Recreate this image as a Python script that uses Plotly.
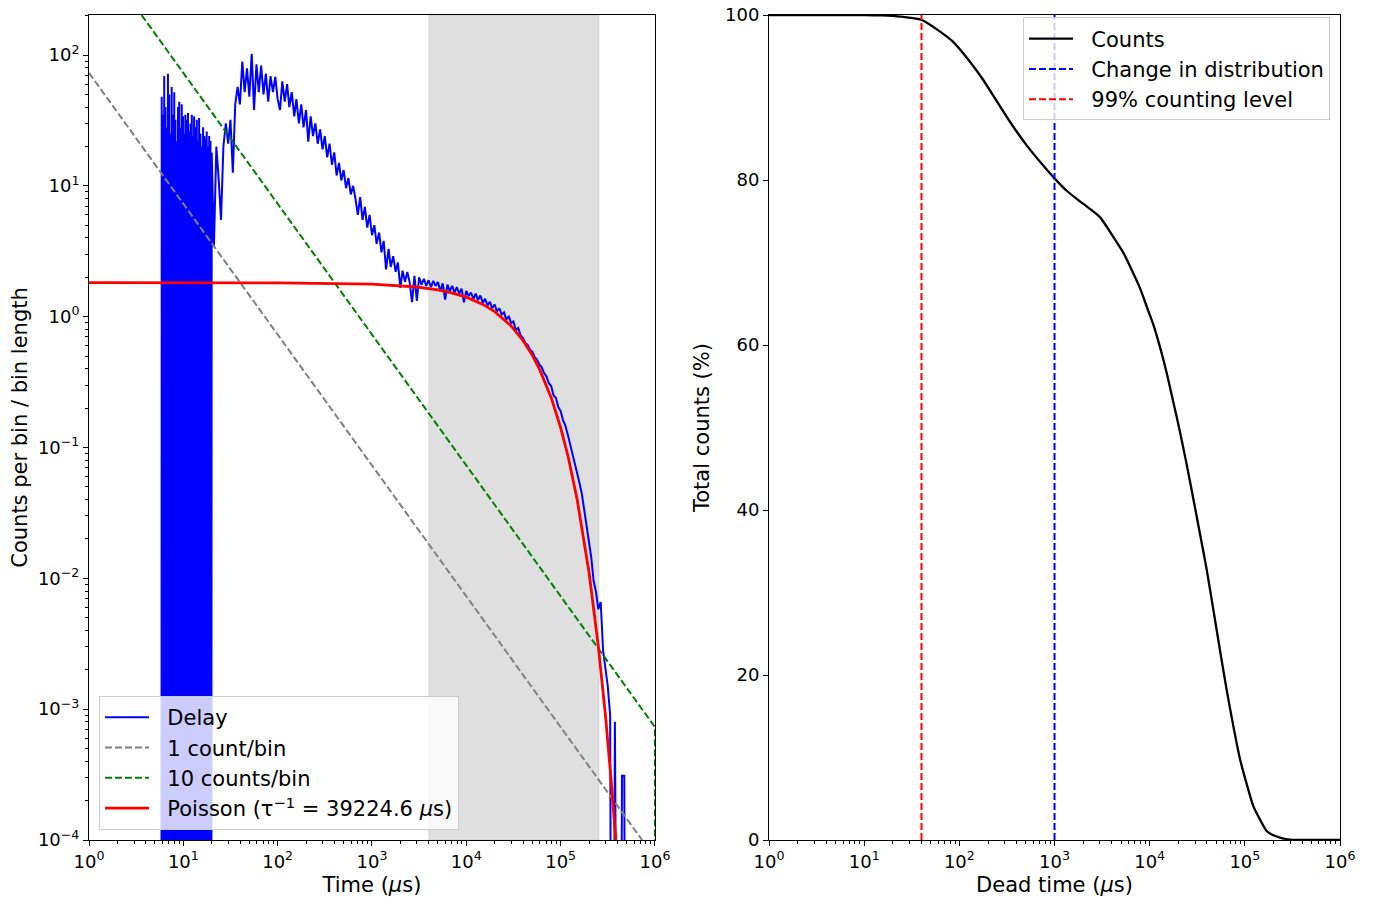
import plotly.graph_objects as go

# ---------------- Left panel data ----------------
# early region: populated bins interleaved with empty (zero-count) bins
spike_time = [5.85, 5.9, 5.99, 6.08, 6.17, 6.27, 6.37, 6.47, 6.57, 6.67, 6.77, 6.87, 6.98, 7.09, 7.2, 7.31,
              7.42, 7.53, 7.65, 7.77, 7.89, 8.01, 8.13, 8.26, 8.38, 8.51, 8.64, 8.78, 8.91, 9.05, 9.19, 9.33,
              9.47, 9.62, 9.77, 9.92, 10.06, 10.2, 10.35, 10.5, 10.7, 10.9, 11.05, 11.2, 11.35, 11.5, 11.7,
              11.9, 12.1, 12.3, 12.45, 12.6, 12.8, 13.0, 13.2, 13.4, 13.65, 13.9, 14.1, 14.3, 14.5, 14.7,
              14.95, 15.2, 15.45, 15.7, 15.95, 16.2, 16.45, 16.7, 16.95, 17.2, 17.45, 17.7, 18.0, 18.3,
              18.55, 18.8, 19.1, 19.4, 19.7, 20.0]
spike_counts = [0, 48, 0, 35, 0, 69, 0, 40, 0, 28, 0, 72, 0, 50, 0, 25,
                0, 57, 0, 35, 0, 52, 0, 32, 0, 22, 0, 40, 0, 44, 0, 28,
                0, 42, 0, 34, 0, 25, 0, 35, 0, 32, 0, 36, 0, 26, 0,
                30, 0, 35, 0, 24, 0, 34, 0, 28, 0, 32, 0, 22, 0, 33,
                0, 25, 0, 20, 0, 28, 0, 24, 0, 23, 0, 26, 0, 20,
                0, 24, 0, 22, 0, 18]

delay_time = [21.1, 22.4, 23.7, 25.1, 26.6, 28.2, 29.9, 31.6, 33.5, 35.5,
              37.6, 39.8, 42.2, 44.7, 47.3, 50.1, 53.1, 56.2, 59.6, 63.1,
              66.8, 70.8, 75.0, 79.4, 84.1, 89.1, 94.4, 100, 106, 112,
              119, 126, 133, 141, 150, 158, 168, 178, 188, 200,
              211, 224, 237, 251, 266, 282, 299, 316, 335, 355,
              376, 398, 422, 447, 473, 501, 531, 562, 596, 631,
              668, 708, 750, 794, 841, 891, 944, 1000, 1060, 1120,
              1190, 1260, 1330, 1410, 1500, 1580, 1680, 1780, 1880, 2000,
              2110, 2240, 2370, 2510, 2660, 2820, 2990, 3160, 3350, 3550,
              3760, 3980, 4220, 4470, 4730, 5010, 5310, 5620, 5960, 6310,
              6680, 7080, 7500, 7940, 8410, 8910, 9440, 10000, 10600, 11200,
              11900, 12600, 13300, 14100, 15000, 15800, 16800, 17800, 18800, 20000,
              21100, 22400, 23700, 25100, 26600, 28200, 29900, 31600, 33500, 35500,
              37600, 39800, 42200, 44700, 47300, 50100, 53100, 56200, 59600, 63100,
              66800, 70800, 75000, 79400, 84100, 89100, 94400, 100000, 106000, 112000,
              119000, 126000, 133000, 141000, 150000, 158000, 168000, 178000, 188000, 200000,
              211000, 224000, 237000, 251000, 266000, 282000, 299000, 316000, 335000, 355000,
              376000, 398000, 422000, 447000, 473000, 501000]
delay_counts = [3.4, 20, 11.2, 5.5, 20, 30, 21, 32, 12.6, 42,
                57, 42, 89, 52, 79, 48, 102, 38, 85, 52,
                83, 50, 72, 44, 69, 52, 68, 46, 38, 63,
                44, 60, 40, 52, 34, 46, 30, 42, 28, 38,
                21.8, 34, 24, 30, 21, 27, 19, 24, 16.5, 21,
                14.5, 18, 12, 15, 11, 13.2, 9.6, 11.5, 8.6, 10,
                8.0, 6.0, 8.2, 5.5, 6.9, 4.8, 6.0, 4.2, 5.0, 3.6,
                4.4, 3.1, 3.8, 2.3, 3.3, 2.4, 2.9, 2.2, 2.6, 1.66,
                2.25, 1.85, 2.2, 1.82, 1.29, 2.05, 1.32, 2.0, 1.75, 1.95,
                1.72, 1.9, 1.68, 1.88, 1.72, 1.84, 1.56, 1.8, 1.35, 1.76,
                1.56, 1.72, 1.53, 1.68, 1.5, 1.64, 1.29, 1.57, 1.44, 1.53,
                1.37, 1.5, 1.34, 1.45, 1.28, 1.37, 1.22, 1.3, 1.16, 1.24,
                1.10, 1.16, 1.04, 1.08, 0.95, 1.01, 0.89, 0.92, 0.79, 0.82,
                0.72, 0.69, 0.63, 0.61, 0.56, 0.54, 0.49, 0.47, 0.43, 0.41,
                0.37, 0.35, 0.31, 0.295, 0.25, 0.24, 0.204, 0.19, 0.162, 0.148,
                0.126, 0.107, 0.091, 0.076, 0.066, 0.054, 0.044, 0.033, 0.026, 0.018,
                0.0145, 0.0095, 0.0079, 0.0058, 0.0066, 0.0028, 0.002, 0.0015, 0.0009, 0,
                0.0008, 0, 0, 0.00031, 0.00031, 0]

ref_time = [1, 1e6, 1e6]
one_count_per_bin = [73, 7.3e-5, 0]
ten_counts_per_bin = [730, 7.3e-4, 0]

poisson_time = [1, 100, 1000, 2000, 3000, 5000, 7000, 10000, 15000, 20000, 30000, 40000,
                50000, 60000, 80000, 100000, 120000, 150000, 180000, 200000, 250000, 300000,
                350000, 400000]
poisson_vals = [1.82, 1.815, 1.774, 1.730, 1.686, 1.602, 1.523, 1.410, 1.242, 1.093, 0.847, 0.656,
                0.509, 0.394, 0.237, 0.142, 0.0854, 0.0397, 0.0185, 0.0111, 0.0031, 0.00087,
                0.000242, 0.0000677]

band_start, band_end = 4000, 255000

# ---------------- Right panel data ----------------
dead_time = [1, 10, 15.4, 24, 40, 59, 85, 122, 174, 249, 357, 510, 730, 1000, 1340, 2010, 3000,
             4150, 5280, 7910, 9290, 10900, 12800, 15100, 17700, 20800, 24500, 28700, 33800,
             39700, 46700, 54800, 64400, 75700, 89000, 104500, 122800, 144000, 169500, 199000,
             234000, 298000, 500000, 1000000]
total_pct = [100, 100, 99.95, 99.8, 99.4, 98.2, 96.8, 94.7, 92.3, 89.5, 86.7, 84.2, 82.0, 80.2, 78.7,
             77.1, 75.5, 73.1, 71.2, 66.9, 64.7, 62.5, 59.8, 56.6, 53.1, 49.5, 45.5, 41.4, 37.1,
             32.8, 27.9, 23.0, 18.2, 13.8, 9.8, 6.8, 4.1, 2.5, 1.1, 0.57, 0.3, 0.04, 0, 0]
change_time = 1000
level99_time = 40

FLOOR = 1e-9


def clip(vals):
    return [v if v > 0 else FLOOR for v in vals]


FONT = "DejaVu Sans"
DASH = "7px,3px"
PAD = "\u00a0\u00a0"

fig = go.Figure()

fig.add_trace(go.Scatter(x=spike_time + delay_time, y=clip(spike_counts + delay_counts), mode="lines",
                         name=PAD + "Delay", line=dict(color="#0000ff", width=2),
                         xaxis="x", yaxis="y", legend="legend", legendgroup="a"))
fig.add_trace(go.Scatter(x=ref_time, y=clip(one_count_per_bin), mode="lines", name=PAD + "1 count/bin",
                         line=dict(color="#808080", width=2, dash=DASH),
                         xaxis="x", yaxis="y", legend="legend", legendgroup="b"))
fig.add_trace(go.Scatter(x=ref_time, y=clip(ten_counts_per_bin), mode="lines", name=PAD + "10 counts/bin",
                         line=dict(color="#008000", width=2, dash=DASH),
                         xaxis="x", yaxis="y", legend="legend", legendgroup="c"))
fig.add_trace(go.Scatter(x=poisson_time, y=poisson_vals, mode="lines",
                         name=PAD + "Poisson (τ<sup>−1</sup> = 39224.6 <i>μ</i>s)",
                         line=dict(color="#ff0000", width=2.8),
                         xaxis="x", yaxis="y", legend="legend", legendgroup="d"))

fig.add_trace(go.Scatter(x=dead_time, y=total_pct, mode="lines", name=PAD + "Counts",
                         line=dict(color="black", width=2.3, shape="spline", smoothing=0.6),
                         xaxis="x2", yaxis="y2", legend="legend2", legendgroup="e"))
fig.add_trace(go.Scatter(x=[change_time, change_time], y=[0, 100], mode="lines",
                         name=PAD + "Change in distribution",
                         line=dict(color="#0000ff", width=2, dash=DASH),
                         xaxis="x2", yaxis="y2", legend="legend2", legendgroup="f"))
fig.add_trace(go.Scatter(x=[level99_time, level99_time], y=[0, 100], mode="lines",
                         name=PAD + "99% counting level",
                         line=dict(color="#ff0000", width=2, dash=DASH),
                         xaxis="x2", yaxis="y2", legend="legend2", legendgroup="g"))

fig.add_shape(type="rect", xref="x", yref="y domain", x0=band_start, x1=band_end, y0=0, y1=1,
              fillcolor="rgba(128,128,128,0.25)", line=dict(color="rgba(128,128,128,0.2)", width=1),
              layer="below")


def sup(k):
    s = str(k).replace("-", "−")
    return f"10<sup>{s}</sup>"


x_major = [10 ** k for k in range(0, 7)]
x_minor = [m * 10 ** k for k in range(0, 6) for m in range(2, 10)]
y_major = [10.0 ** k for k in range(-4, 3)]
y_minor = [m * 10.0 ** k for k in range(-4, 3) for m in range(2, 10) if m * 10.0 ** k < 202]

common = dict(showline=True, linecolor="black", linewidth=1, mirror=True, ticks="outside",
              ticklen=5, tickwidth=1, tickcolor="black", showgrid=False, zeroline=False,
              automargin=False, ticklabeloverflow="allow",
              tickfont=dict(family=FONT, size=18, color="black"))
log_minor = lambda vals: dict(tickmode="array", tickvals=vals, ticks="outside", ticklen=3,
                              tickwidth=1, tickcolor="black", showgrid=False)
TITLE_FONT = dict(family=FONT, size=21, color="black")
LEG_FONT = dict(family=FONT, size=21, color="black")

# the page body has an 8px margin, so the figure is 8px smaller than the window
fig.update_layout(
    width=1365, height=892,
    margin=dict(l=81, r=33, t=7, b=60, autoexpand=False),
    plot_bgcolor="white", paper_bgcolor="white",
    font=dict(family=FONT, size=18, color="black"),
    xaxis=dict(domain=[0, 0.4524], type="log", range=[0, 6], anchor="y",
               tickmode="array", tickvals=x_major, ticktext=[sup(k) for k in range(0, 7)],
               minor=log_minor(x_minor),
               title=dict(text="Time (<i>μ</i>s)", font=TITLE_FONT, standoff=6),
               **common),
    yaxis=dict(domain=[0, 1], type="log", range=[-4, 2.306], anchor="x",
               tickmode="array", tickvals=y_major, ticktext=[sup(k) for k in range(-4, 3)],
               minor=log_minor(y_minor),
               title=dict(text="Counts per bin / bin length", font=TITLE_FONT, standoff=10),
               **common),
    xaxis2=dict(domain=[0.5436, 1], type="log", range=[0, 6], anchor="y2",
                tickmode="array", tickvals=x_major, ticktext=[sup(k) for k in range(0, 7)],
                minor=log_minor(x_minor),
                title=dict(text="Dead time (<i>μ</i>s)", font=TITLE_FONT, standoff=6),
                **common),
    yaxis2=dict(domain=[0, 1], range=[0, 100], anchor="x2",
                tickmode="array", tickvals=[0, 20, 40, 60, 80, 100],
                title=dict(text="Total counts (%)", font=TITLE_FONT, standoff=9),
                **common),
    legend=dict(x=0.008, y=0.012, xanchor="left", yanchor="bottom",
                bgcolor="rgba(255,255,255,0.8)", bordercolor="#cccccc", borderwidth=1,
                font=LEG_FONT, tracegroupgap=0, itemwidth=44),
    legend2=dict(x=0.992, y=0.997, xanchor="right", yanchor="top",
                 bgcolor="rgba(255,255,255,0.8)", bordercolor="#cccccc", borderwidth=1,
                 font=LEG_FONT, tracegroupgap=0, itemwidth=44),
    showlegend=True,
)

fig.write_html("out.html")
